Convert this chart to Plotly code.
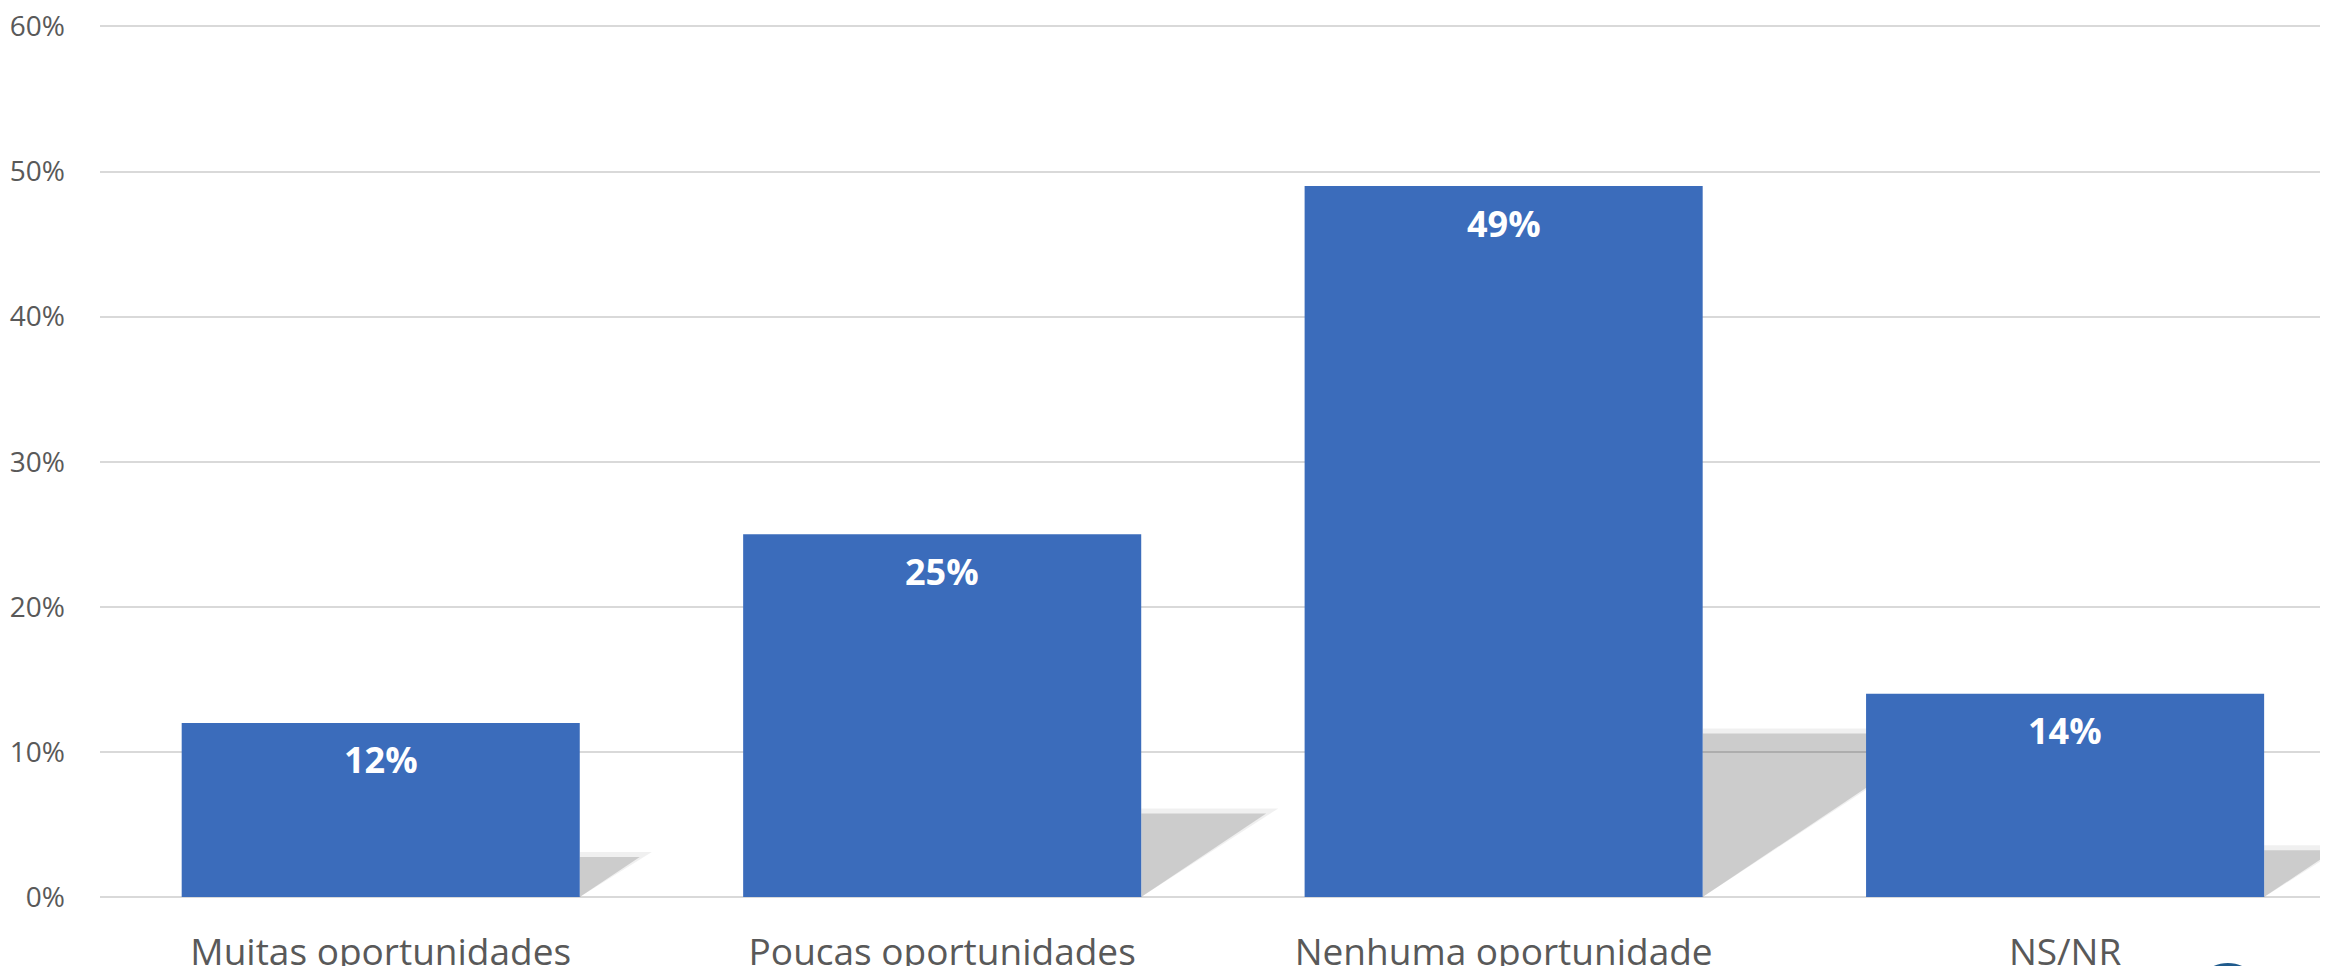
import plotly.graph_objects as go

categories = ["Muitas oportunidades", "Poucas oportunidades", "Nenhuma oportunidade", "NS/NR"]
values = [12, 25, 49, 14]
y_ticks = [0, 10, 20, 30, 40, 50, 60]
y_ticktext = ["0%", "10%", "20%", "30%", "40%", "50%", "60%"]

bar_width = 0.709
bar_color = "#3B6CBB"
font = "Open Sans"
grey_text = "#595959"

# shadow size relative to bar value (cast to the right, like the Excel effect)
shadow_ratio = 0.23
shadow_slant = 0.0387  # category units per % of shadow height

positions = list(range(len(categories)))

fig = go.Figure()

fig.add_trace(
    go.Bar(
        x=positions,
        y=values,
        width=bar_width,
        marker=dict(color=bar_color, line=dict(width=0)),
        hoverinfo="x+y",
        showlegend=False,
    )
)

shapes = []
for pos, v in zip(positions, values):
    xr = pos + bar_width / 2
    h = v * shadow_ratio
    w = h * shadow_slant
    # soft outer edge, then the core of the shadow
    for grow, alpha in [(0.35, 0.06), (0.0, 0.15)]:
        hh = h + grow
        ww = w + grow * shadow_slant * 1.6
        shapes.append(dict(
            type="path",
            xref="x", yref="y",
            path=f"M {xr},0 L {xr},{hh} L {xr + ww},{hh} Z",
            fillcolor=f"rgba(0,0,0,{alpha})",
            line=dict(width=0),
            layer="between",
        ))

# bit of a logo peeking in at the bottom right corner
shapes.append(dict(
    type="circle", xref="paper", yref="paper",
    x0=0.945, x1=0.972, y0=-0.148, y1=-0.079,
    line=dict(color="#1F5A8C", width=6),
    fillcolor="rgba(0,0,0,0)",
    layer="above",
))

annotations = [
    dict(
        x=pos, y=v, xref="x", yref="y",
        text=f"<b>{v}%</b>",
        showarrow=False,
        yanchor="middle",
        yshift=-37,
        font=dict(family=font, size=36, color="white"),
    )
    for pos, v in zip(positions, values)
]

fig.update_layout(
    width=2312,
    height=958,
    margin=dict(l=92, r=0, t=17, b=69),
    paper_bgcolor="white",
    plot_bgcolor="white",
    shapes=shapes,
    annotations=annotations,
    xaxis=dict(
        range=[-0.5, 3.454],
        tickvals=positions,
        ticktext=categories,
        tickfont=dict(family=font, size=37, color=grey_text),
        showgrid=False,
        zeroline=False,
        ticks="",
        ticklabelstandoff=30,
        ticklabeloverflow="allow",
        automargin=False,
        fixedrange=True,
    ),
    yaxis=dict(
        range=[0, 60.1],
        tickvals=y_ticks,
        ticktext=y_ticktext,
        tickfont=dict(family=font, size=28, color=grey_text),
        showgrid=True,
        gridcolor="#D9D9D9",
        gridwidth=2,
        zeroline=True,
        zerolinecolor="#D9D9D9",
        zerolinewidth=2,
        ticks="",
        ticklabelstandoff=34,
        ticklabeloverflow="allow",
        automargin=False,
        fixedrange=True,
    ),
)

fig.write_html("out.html")
